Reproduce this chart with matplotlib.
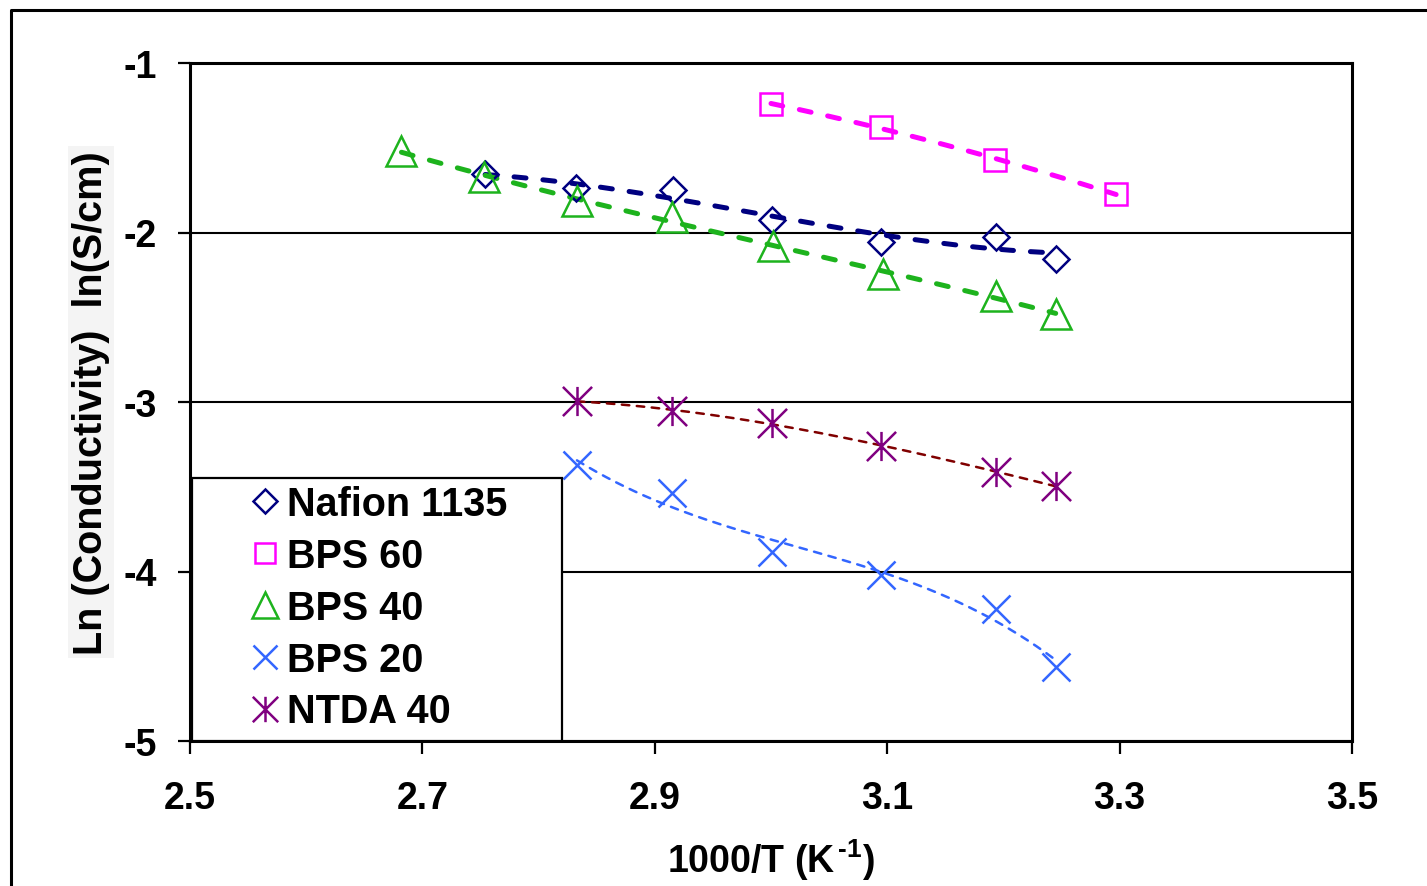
import numpy as np
import matplotlib
matplotlib.use("Agg")
import matplotlib.pyplot as plt
from matplotlib.path import Path
from matplotlib.patches import Rectangle
from matplotlib.lines import Line2D

# ---- data: ln(conductivity) vs 1000/T ----
nafion_x = [2.754, 2.832, 2.916, 3.001, 3.095, 3.194, 3.245]
nafion_y = [-1.655, -1.737, -1.749, -1.926, -2.056, -2.027, -2.156]

bps60_x = [3.000, 3.095, 3.193, 3.297]
bps60_y = [-1.242, -1.378, -1.572, -1.773]

bps40_x = [2.682, 2.753, 2.833, 2.915, 3.002, 3.096, 3.194, 3.245]
bps40_y = [-1.519, -1.673, -1.814, -1.909, -2.080, -2.245, -2.375, -2.481]

bps20_x = [2.833, 2.915, 3.001, 3.095, 3.194, 3.245]
bps20_y = [-3.372, -3.537, -3.885, -4.021, -4.221, -4.563]

ntda_x = [2.833, 2.915, 3.001, 3.095, 3.194, 3.245]
ntda_y = [-2.994, -3.053, -3.124, -3.259, -3.413, -3.496]

labels = ["Nafion 1135", "BPS 60", "BPS 40", "BPS 20", "NTDA 40"]
x_ticks = [2.5, 2.7, 2.9, 3.1, 3.3, 3.5]
y_ticks = [-5, -4, -3, -2, -1]

# ---- style ----
plt.rcParams["font.family"] = ["Liberation Sans", "DejaVu Sans"]
plt.rcParams["font.weight"] = "bold"
plt.rcParams["axes.labelweight"] = "bold"
plt.rcParams["mathtext.fontset"] = "custom"
plt.rcParams["mathtext.rm"] = "Liberation Sans:bold"
plt.rcParams["mathtext.bf"] = "Liberation Sans:bold"
plt.rcParams["mathtext.it"] = "Liberation Sans:bold"

W, H = 1427, 887
fig = plt.figure(figsize=(W / 100, H / 100), dpi=100)
ax = fig.add_axes([190 / W, 1 - 742 / H, (1352 - 190) / W, (742 - 64) / H])

# asterisk marker: an X with a vertical stroke
star = Path([(-0.5, -0.5), (0.5, 0.5), (-0.5, 0.5), (0.5, -0.5), (0, -0.5), (0, 0.5)],
            [Path.MOVETO, Path.LINETO, Path.MOVETO, Path.LINETO, Path.MOVETO, Path.LINETO])

series = [
    # x, y, marker, size, marker colour, line colour, line width, dash, fit degree
    (nafion_x, nafion_y, "D", 13.5, "#000080", "#000080", 3.6, (2.4, 3.4), 3),
    (bps60_x, bps60_y, "s", 16.5, "#FF00FF", "#FF00FF", 3.6, (2.4, 3.4), 2),
    (bps40_x, bps40_y, "^", 21, "#1DB31D", "#1DB31D", 3.6, (2.4, 3.4), 3),
    (bps20_x, bps20_y, "x", 20, "#3366FF", "#3366FF", 1.8, (3.0, 3.0), 3),
    (ntda_x, ntda_y, star, 21, "#800080", "#800000", 1.8, (3.0, 3.0), 3),
]

handles = []
for (xs, ys, mk, ms, mc, lc, lw, dash, deg), lab in zip(series, labels):
    xs = np.asarray(xs)
    ys = np.asarray(ys)
    # polynomial trend line across the measured range
    coef = np.polyfit(xs, ys, deg)
    xf = np.linspace(xs.min(), xs.max(), 200)
    ax.plot(xf, np.polyval(coef, xf), color=lc, lw=lw, dashes=dash,
            dash_capstyle="round", zorder=3)
    h, = ax.plot(xs, ys, linestyle="none", marker=mk, ms=ms, mfc="none",
                 mec=mc, mew=1.8, zorder=4, label=lab)
    handles.append(h)

ax.set_xlim(2.5, 3.5)
ax.set_ylim(-5, -1)
ax.set_xticks(x_ticks)
ax.set_xticklabels([f"{v:.1f}" for v in x_ticks])
ax.set_yticks(y_ticks)
ax.set_yticklabels([f"-{abs(v)}" for v in y_ticks])

ax.yaxis.grid(True, color="black", lw=1.5, zorder=1)
ax.set_axisbelow(True)
for s in ax.spines.values():
    s.set_linewidth(2.2)
    s.set_color("black")

ax.tick_params(axis="both", direction="out", length=9, width=1.6,
               labelsize=27, top=False, right=False)
ax.tick_params(axis="y", pad=15)
ax.tick_params(axis="x", pad=19)

ax.set_xlabel("1000/T (K" + r"$^{\,\mathbf{‐1}}$" + ")", fontsize=27, va="baseline")
ax.xaxis.set_label_coords(0.5, (742 - 873) / 678)
ax.set_ylabel("Ln (Conductivity)  ln(S/cm)", fontsize=28.5,
              bbox=dict(facecolor="#f4f4f4", edgecolor="none", pad=3))
ax.yaxis.set_label_coords((110 - 190) / 1162, 0.5)

# legend box and entries
box = Rectangle((192 / W, 1 - 742 / H), 370 / W, 263 / H, transform=fig.transFigure,
                facecolor="white", edgecolor="black", lw=1.6, zorder=4.5, clip_on=False)
ax.add_patch(box)
leg = ax.legend(handles=handles, loc="upper left",
                bbox_to_anchor=(245 / W, 1 - 486 / H), bbox_transform=fig.transFigure,
                frameon=False, borderpad=0, borderaxespad=0, handlelength=1.0,
                handletextpad=0.06, labelspacing=0.35, markerscale=0.87,
                prop=dict(family="Liberation Sans", weight="bold", size=28.5))
leg.set_zorder(5)

# outer chart border
fig.add_artist(Line2D([11 / W, 11 / W, 1.01], [-0.01, 1 - 11 / H, 1 - 11 / H],
                      transform=fig.transFigure, color="black", lw=2.2))

fig.savefig("out.png", dpi=100, facecolor="white")
